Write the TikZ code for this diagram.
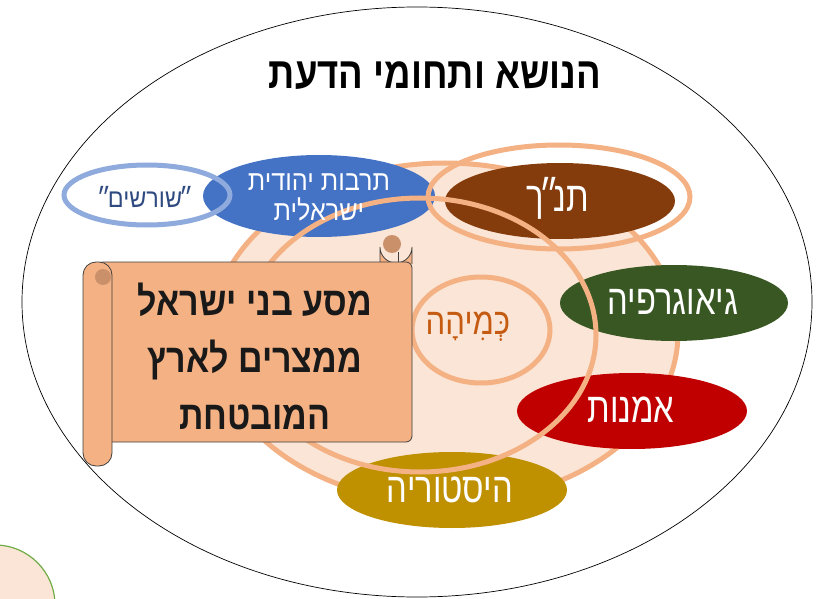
\documentclass[tikz,border=0pt]{standalone}
\usepackage{fontspec}
\usetikzlibrary{shapes.geometric}
\TeXXeTstate=1
\newfontfamily\hebA[Script=Hebrew,FakeStretch=0.83]{Liberation Sans}
\newfontfamily\hebB[Script=Hebrew,FakeStretch=0.85]{Liberation Sans}
\newfontfamily\hebC[Script=Hebrew,FakeStretch=0.78]{Liberation Sans}
\newfontfamily\hebD[Script=Hebrew,FakeStretch=0.9]{Liberation Sans}
\newfontfamily\hebE[Script=Hebrew,FakeStretch=0.84]{Liberation Sans}
\definecolor{peachfill}{HTML}{FBE5D6}
\definecolor{peachline}{HTML}{F4B183}
\definecolor{blueE}{HTML}{4472C4}
\definecolor{lblue}{HTML}{8FAADC}
\definecolor{brownE}{HTML}{843C0C}
\definecolor{greenE}{HTML}{385723}
\definecolor{redE}{HTML}{C00000}
\definecolor{goldE}{HTML}{BF9000}
\definecolor{scrollfill}{HTML}{F4B183}
\definecolor{scrolldark}{HTML}{C9906A}
\definecolor{scrollline}{HTML}{404040}
\definecolor{kmiha}{HTML}{C55A11}
\definecolor{roots}{HTML}{2F4A80}
\definecolor{greenline}{HTML}{70AD47}
\begin{document}
\begin{tikzpicture}[x=1pt,y=-1pt,
  blob/.style={ellipse, inner sep=0pt, outer sep=0pt},
  ring/.style={blob, draw=peachline, line width=5pt},
  tag/.style={text=white, inner sep=0pt, font=\hebC\fontsize{42}{42}\selectfont},
  scrollpart/.style={fill=scrollfill, draw=scrollline, line width=0.8pt}]
\useasboundingbox (0,0) rectangle (817,599);
% outer frame
\node[blob, draw=black, line width=0.7pt, minimum width=790pt, minimum height=590pt] (outer) at (417,302) {};
\node[blob, draw=greenline, fill=peachfill, line width=1.2pt, minimum width=120pt, minimum height=120pt] (corner) at (-5,605) {};
% big peach ellipse
\node[blob, draw=peachline, fill=peachfill, line width=5pt, minimum width=466pt, minimum height=340pt] (big) at (445,333) {};
% coloured ellipses
\node[blob, fill=blueE, minimum width=232pt, minimum height=82pt] (blue) at (319,196) {};
\node[blob, fill=brownE, minimum width=230pt, minimum height=76pt] (tanakh) at (560,201) {};
\node[blob, fill=greenE, minimum width=228pt, minimum height=76pt] (geo) at (674,303) {};
\node[blob, fill=redE, minimum width=230pt, minimum height=76pt] (art) at (632,411) {};
\node[blob, fill=goldE, minimum width=230pt, minimum height=76pt] (hist) at (452,490) {};
% rings
\node[ring, minimum width=352pt, minimum height=274pt] (ring2) at (420,335) {};
\node[ring, minimum width=262pt, minimum height=104pt] (ringT) at (559,197) {};
\node[ring, minimum width=138pt, minimum height=106pt] (ringK) at (481,330) {};
\node[blob, draw=lblue, line width=5pt, minimum width=166pt, minimum height=60pt] (roots) at (147,195) {};
% texts
\node[inner sep=0pt, font=\hebA\bfseries\fontsize{44}{44}\selectfont] (title) at (435,76) {\beginR הנושא ותחומי הדעת\endR};
\node[inner sep=0pt, text=roots, font=\hebD\fontsize{26}{26}\selectfont] (rootsT) at (145,197) {\beginR ״\kern-3pt שורשים\kern-3pt״\endR};
\node[inner sep=0pt, text=white, align=center, font=\hebD\fontsize{28}{30}\selectfont] (blueT) at (319,197) {\beginR תרבות יהודית\endR\\\beginR ישראלית\endR};
\node[tag] (tanakhT) at (558,198) {\beginR תנ\kern-5pt״\kern-5ptך\endR};
\node[inner sep=0pt, text=kmiha, font=\hebE\fontsize{37}{37}\selectfont] (kmihaT) at (468,327) {\beginR כְּמִיהָה\endR};
\node[tag] (geoT) at (673,302) {\beginR גיאוגרפיה\endR};
\node[tag] (artT) at (631,410) {\beginR אמנות\endR};
\node[tag] (histT) at (450,490) {\beginR היסטוריה\endR};
% scroll
\draw[scrollpart] (380,264) -- (380,247) arc[start angle=180, end angle=0, radius=16] -- (412,264);
\fill[scrolldark] (392,244) circle[radius=9];
\draw[scrollpart, rounded corners=6pt] (97,262) -- (412,262) -- (412,442) -- (97,442) -- cycle;
\draw[scrollline, line width=0.8pt] (398,262) -- (398,252);
\draw[scrollpart, rounded corners=13pt] (83,262) -- (112,262) -- (112,466) -- (83,466) -- cycle;
\fill[scrolldark] (103,277) circle[radius=8];
\node[inner sep=0pt, align=center, text=black!90, font=\hebB\bfseries\fontsize{40}{57}\selectfont] (scrollT) at (255,356) {\beginR מסע בני ישראל\endR\\\beginR ממצרים לארץ\endR\\\beginR המובטחת\endR};
\end{tikzpicture}
\end{document}
